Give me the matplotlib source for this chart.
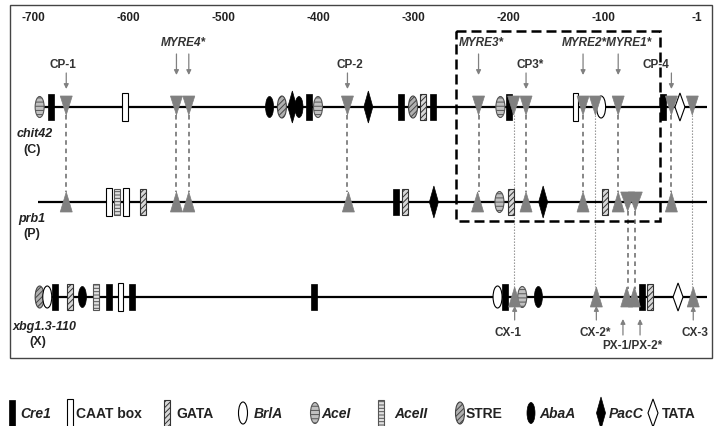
import matplotlib
matplotlib.use('Agg')
import matplotlib.pyplot as plt
from matplotlib.patches import Rectangle, Ellipse, Polygon

plt.rcParams['font.family'] = ['Liberation Sans', 'DejaVu Sans']
plt.rcParams['hatch.linewidth'] = 0.7

# ---------------- data (positions in bp upstream of start) ----------------
tick_positions = [-700, -600, -500, -400, -300, -200, -100, -1]
tick_labels = ['-700', '-600', '-500', '-400', '-300', '-200', '-100', '-1']

gene_names = ['chit42', 'prb1', 'xbg1.3-110']
gene_codes = ['(C)', '(P)', '(X)']

chit42_kinds = ['AceI', 'Cre1', 'CAAT', 'AbaA', 'STRE', 'PacC', 'AbaA', 'Cre1', 'AceI',
                'PacC', 'Cre1', 'STRE', 'GATA', 'Cre1', 'AceI', 'Cre1', 'CAAT', 'BrlA',
                'Cre1', 'TATA']
chit42_pos = [-693, -681, -603, -451, -438, -427, -420, -409, -400,
              -347, -313, -300, -289, -279, -208, -199, -129, -102,
              -37, -19]
chit42_sites = [-665, -549, -536, -369, -231, -194, -181, -121, -108, -84, -28, -6]

prb1_kinds = ['CAAT', 'AceII', 'CAAT', 'GATA', 'Cre1', 'GATA', 'PacC', 'AceI', 'GATA',
              'PacC', 'GATA']
prb1_pos = [-620, -612, -602, -584, -318, -308, -278, -209, -197, -163, -98]
prb1_sites = [-665, -549, -536, -368, -232, -181, -121, -84, -28]
prb1_sites_inverted = [-74, -66]

xbg_kinds = ['STRE', 'BrlA', 'Cre1', 'GATA', 'AbaA', 'AceII', 'Cre1', 'CAAT', 'Cre1',
             'Cre1', 'BrlA', 'Cre1', 'AceI', 'AbaA', 'Cre1', 'GATA', 'TATA']
xbg_pos = [-693, -685, -677, -661, -648, -634, -620, -608, -596,
           -404, -211, -203, -185, -168, -59, -51, -21]
xbg_sites = [-193, -107, -75, -67, -5]

links_chit_prb = [-665, -549, -536, -369, -231, -181, -121, -84, -28]
links_chit_xbg = [-194, -108, -6]
links_prb_xbg = [-74, -66]

top_labels = ['CP-1', 'MYRE4*', 'CP-2', 'MYRE3*', 'CP3*', 'MYRE2*MYRE1*', 'CP-4']
top_label_x = [-669, -542, -366, -228, -177, -96, -44]
top_label_italic = [False, True, False, True, False, True, False]
top_arrow_x = [[-665], [-549, -536], [-369], [-231], [-181], [-121, -84], [-28]]

bottom_labels = ['CX-1', 'CX-2*', 'PX-1/PX-2*', 'CX-3']
bottom_label_x = [-200, -108, -69, -3]
bottom_arrow_x = [[-193], [-107], [-79, -61], [-5]]

legend_kinds = ['Cre1', 'CAAT', 'GATA', 'BrlA', 'AceI', 'AceII', 'STRE', 'AbaA', 'PacC', 'TATA']
legend_labels = ['Cre1', 'CAAT box', 'GATA', 'BrlA', 'AceI', 'AceII', 'STRE', 'AbaA', 'PacC', 'TATA']
legend_italic = [True, False, False, True, True, True, False, True, True, False]

# ---------------- layout ----------------
W, H = 717, 427
PX_PER_BP = 0.95
X0_PX = 698.0  # pixel of bp 0


def bp(px):
    return (px - X0_PX) / PX_PER_BP


def wbp(px):
    return px / PX_PER_BP


fig = plt.figure(figsize=(W / 100, H / 100), dpi=100)
ax = fig.add_axes([0, 0, 1, 1])
ax.set_xlim(bp(0), bp(W))
ax.set_ylim(H, 0)
ax.axis('off')

Y_C, Y_P, Y_X = 108, 203, 298
GREY = '#808080'


def draw_element(kind, x, y, s=1.0, z=3):
    if kind == 'Cre1':
        ax.add_patch(Rectangle((x - wbp(3 * s), y - 13 * s), wbp(6 * s), 26 * s,
                               fc='black', ec='black', lw=0.5, zorder=z))
    elif kind == 'CAAT':
        ax.add_patch(Rectangle((x - wbp(2.8 * s), y - 14 * s), wbp(5.6 * s), 28 * s,
                               fc='white', ec='black', lw=0.8, zorder=z))
    elif kind == 'GATA':
        ax.add_patch(Rectangle((x - wbp(3 * s), y - 13 * s), wbp(6 * s), 26 * s,
                               fc='#d8d8d8', ec='#333333', lw=0.8, hatch='//////', zorder=z))
    elif kind == 'AceII':
        ax.add_patch(Rectangle((x - wbp(3 * s), y - 13 * s), wbp(6 * s), 26 * s,
                               fc='#e0e0e0', ec='#555555', lw=0.8, hatch='-----', zorder=z))
    elif kind == 'BrlA':
        ax.add_patch(Ellipse((x, y), wbp(9 * s), 22 * s, fc='white', ec='black', lw=0.8, zorder=z))
    elif kind == 'AceI':
        ax.add_patch(Ellipse((x, y), wbp(9 * s), 21 * s, fc='#c0c0c0', ec='#555555', lw=0.8,
                             hatch='----', zorder=z))
    elif kind == 'STRE':
        ax.add_patch(Ellipse((x, y), wbp(9 * s), 22 * s, fc='#b0b0b0', ec='#444444', lw=0.8,
                             hatch='//////', zorder=z))
    elif kind == 'AbaA':
        ax.add_patch(Ellipse((x, y), wbp(8 * s), 21 * s, fc='black', ec='black', lw=0.5, zorder=z))
    elif kind == 'PacC':
        hw, hh = wbp(4.5 * s), 16 * s
        ax.add_patch(Polygon([(x - hw, y), (x, y - hh), (x + hw, y), (x, y + hh)],
                             closed=True, fc='black', ec='black', lw=0.5, zorder=z))
    elif kind == 'TATA':
        hw, hh = wbp(5 * s), 14 * s
        ax.add_patch(Polygon([(x - hw, y), (x, y - hh), (x + hw, y), (x, y + hh)],
                             closed=True, fc='white', ec='black', lw=0.8, zorder=z))


def draw_site(x, y, down=True, z=4):
    hw = wbp(6)
    if down:
        pts = [(x - hw, y - 11), (x + hw, y - 11), (x, y + 8)]
    else:
        pts = [(x - hw, y + 10), (x + hw, y + 10), (x, y - 10)]
    ax.add_patch(Polygon(pts, closed=True, fc=GREY, ec=GREY, lw=0.5, zorder=z))


# frame
ax.add_patch(Rectangle((bp(10), 6), wbp(702), 353, fill=False, ec='#444444', lw=1.0, zorder=1))

# tick labels
for tp, tl in zip(tick_positions, tick_labels):
    ax.text(tp, 18, tl, ha='center', va='center', fontsize=8.5, fontweight='bold', color='#222222')

# gene lines
for y in (Y_C, Y_P, Y_X):
    ax.plot([bp(38), bp(707)], [y, y], color='black', lw=1.6, zorder=2, solid_capstyle='butt')

# gene labels
gene_label_px = [(35, 134, 32, 150), (32, 219, 32, 234), (45, 327, 38, 342)]
for name, code, (nx, ny, cx, cy) in zip(gene_names, gene_codes, gene_label_px):
    ax.text(bp(nx), ny, name, ha='center', va='center', fontsize=9, fontweight='bold',
            fontstyle='italic', color='#222222')
    ax.text(bp(cx), cy, code, ha='center', va='center', fontsize=9, fontweight='bold',
            color='#222222')

# connecting lines
for x in links_chit_prb:
    ax.plot([x, x], [Y_C + 8, Y_P - 10], color='#666666', lw=1.1,
            linestyle=(0, (3, 2.5)), zorder=1.5)
for x in links_chit_xbg:
    ax.plot([x, x], [Y_C + 8, Y_X - 10], color='#888888', lw=0.8,
            linestyle=(0, (1.2, 1.5)), zorder=1.5)
for x in links_prb_xbg:
    ax.plot([x, x], [Y_P + 9, Y_X - 8], color='#666666', lw=1.1,
            linestyle=(0, (3, 2.5)), zorder=1.5)

# dashed box
ax.add_patch(Rectangle((bp(456), 32), wbp(204), 190, fill=False, ec='black', lw=1.8,
                       linestyle=(0, (4, 2)), zorder=5))

# elements
for k, x in zip(chit42_kinds, chit42_pos):
    draw_element(k, x, Y_C)
for x in chit42_sites:
    draw_site(x, Y_C, down=True)

for k, x in zip(prb1_kinds, prb1_pos):
    draw_element(k, x, Y_P)
for x in prb1_sites:
    draw_site(x, Y_P, down=False)
for x in prb1_sites_inverted:
    hw = wbp(7)
    ax.add_patch(Polygon([(x - hw, Y_P - 10), (x + hw, Y_P - 10), (x, Y_P + 9)],
                         closed=True, fc=GREY, ec=GREY, lw=0.5, zorder=4))

for k, x in zip(xbg_kinds, xbg_pos):
    draw_element(k, x, Y_X)
for x in xbg_sites:
    draw_site(x, Y_X, down=False)

# arrows & labels
arrow_props = dict(arrowstyle='-|>', color='#808080', lw=0.9, mutation_scale=7,
                   shrinkA=0, shrinkB=0)
for lab, lx, it, axs in zip(top_labels, top_label_x, top_label_italic, top_arrow_x):
    if it:
        ly, t, h = 43, 55, 76
    else:
        ly, t, h = 65, 74, 90
    ax.text(lx, ly, lab, ha='center', va='center', fontsize=8.5, fontweight='bold',
            fontstyle='italic' if it else 'normal', color='#333333', zorder=6)
    for x in axs:
        ax.annotate('', xy=(x, h), xytext=(x, t), arrowprops=arrow_props)

for lab, lx, axs in zip(bottom_labels, bottom_label_x, bottom_arrow_x):
    if lab.startswith('PX'):
        ly, t, h = 346, 336, 320
    else:
        ly, t, h = 333, 321, 307
    ax.text(lx, ly, lab, ha='center', va='center', fontsize=8.5, fontweight='bold',
            color='#333333')
    for x in axs:
        ax.annotate('', xy=(x, h), xytext=(x, t), arrowprops=arrow_props)

# legend
legend_sym_px = [12, 70, 167, 243, 315, 381, 460, 531, 601, 653]
legend_txt_px = [20, 76, 176, 254, 321, 394, 466, 539, 609, 662]
LY = 414
for k, lab, it, sx, tx in zip(legend_kinds, legend_labels, legend_italic,
                              legend_sym_px, legend_txt_px):
    draw_element(k, bp(sx), LY, s=1.0)
    ax.text(bp(tx), LY, lab, ha='left', va='center', fontsize=10, fontweight='bold',
            fontstyle='italic' if it else 'normal', color='#222222')

fig.savefig('out.png', dpi=100)
